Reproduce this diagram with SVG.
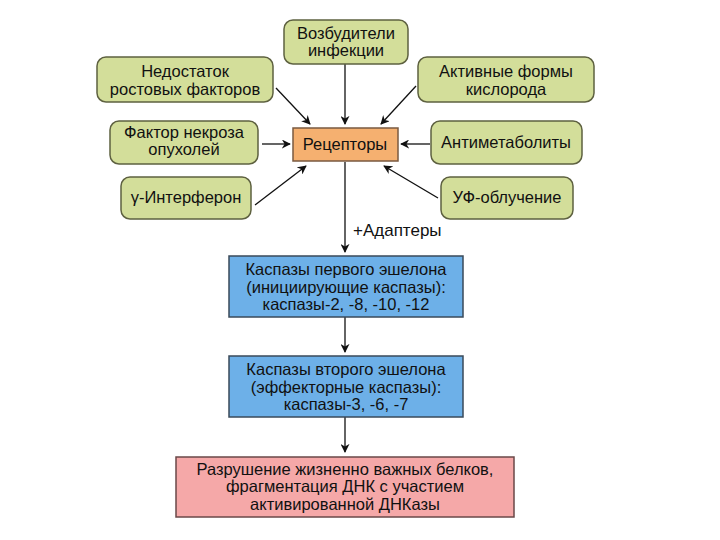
<svg xmlns="http://www.w3.org/2000/svg" width="720" height="540" viewBox="0 0 720 540">
<style>
text{font-family:"Liberation Sans",Arial,sans-serif;font-size:16.5px;fill:#111;text-anchor:middle}
.g{fill:#d3de9a;stroke:#5e6140;stroke-width:1.5}
.o{fill:#f5b070;stroke:#7a5a40;stroke-width:1.5}
.b{fill:#6db0e8;stroke:#3a4a5a;stroke-width:1.5}
.r{fill:#f5a8a8;stroke:#6a4848;stroke-width:1.5}
.c line{stroke:#111;stroke-width:1.3;marker-end:url(#ah)}
</style>
<defs>
<marker id="ah" viewBox="0 0 10 10" refX="9" refY="5" markerWidth="9" markerHeight="9" markerUnits="userSpaceOnUse" orient="auto">
<path d="M0,0 L10,5 L0,10 L3,5 Z" fill="#111"/>
</marker>
</defs>
<rect width="720" height="540" fill="#fff"/>
<g class="c">
<line x1="345" y1="64" x2="345" y2="124"/>
<line x1="276" y1="88" x2="310" y2="124"/>
<line x1="416" y1="86" x2="381" y2="124"/>
<line x1="262" y1="144" x2="290" y2="144"/>
<line x1="430" y1="144" x2="401" y2="144"/>
<line x1="255" y1="205" x2="306" y2="166"/>
<line x1="438" y1="198" x2="384" y2="166"/>
<line x1="345" y1="162" x2="345" y2="252"/>
<line x1="345" y1="317" x2="345" y2="352"/>
<line x1="345" y1="417" x2="345" y2="452"/>
</g>
<text x="353" y="236" style="text-anchor:start;font-size:17px">+Адаптеры</text>
<g id="vozb"><rect class="g" x="284" y="20" width="124" height="44" rx="9"/><text x="346" y="38.5">Возбудители</text><text x="346" y="56">инфекции</text></g>
<g id="nedost"><rect class="g" x="97" y="57" width="176" height="45" rx="9"/><text x="185" y="77">Недостаток</text><text x="185" y="94.5">ростовых факторов</text></g>
<g id="aktiv"><rect class="g" x="418" y="57" width="176" height="45" rx="9"/><text x="506" y="77">Активные формы</text><text x="506" y="94.5">кислорода</text></g>
<g id="faktor"><rect class="g" x="110" y="121" width="148" height="43" rx="9"/><text x="184" y="137.5">Фактор некроза</text><text x="184" y="155">опухолей</text></g>
<g id="recept"><rect class="o" x="293" y="128" width="105" height="33"/><text x="345" y="150">Рецепторы</text></g>
<g id="antimet"><rect class="g" x="431" y="121" width="151" height="43" rx="9"/><text x="506" y="148">Антиметаболиты</text></g>
<g id="interf"><rect class="g" x="121" y="177" width="130" height="42" rx="9"/><text x="186" y="203">γ-Интерферон</text></g>
<g id="uf"><rect class="g" x="441" y="177" width="132" height="42" rx="9"/><text x="507" y="203">УФ-облучение</text></g>
<g id="casp1"><rect class="b" x="229" y="256" width="234" height="61"/><text x="346" y="275">Каспазы первого эшелона</text><text x="346" y="292.5">(инициирующие каспазы):</text><text x="346" y="310">каспазы-2, -8, -10, -12</text></g>
<g id="casp2"><rect class="b" x="229" y="356" width="234" height="61"/><text x="346" y="375">Каспазы второго эшелона</text><text x="346" y="392.5">(эффекторные каспазы):</text><text x="346" y="410">каспазы-3, -6, -7</text></g>
<g id="razr"><rect class="r" x="176" y="457" width="338" height="60"/><text x="345" y="474.5">Разрушение жизненно важных белков,</text><text x="345" y="492">фрагментация ДНК с участием</text><text x="345" y="509.5">активированной ДНКазы</text></g>
</svg>
